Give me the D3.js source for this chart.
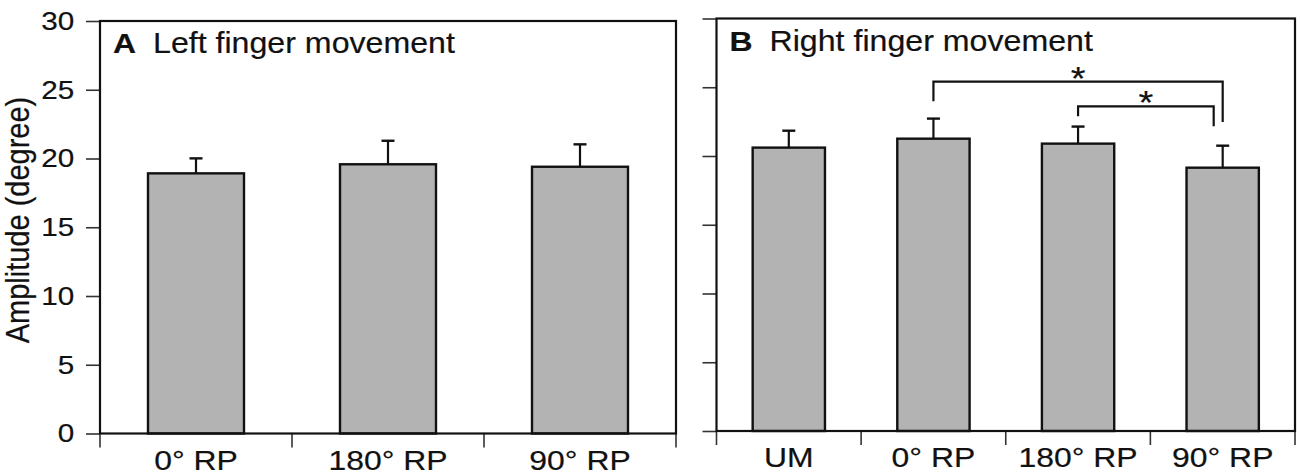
<!DOCTYPE html>
<html>
<head>
<meta charset="utf-8">
<script src="https://cdn.jsdelivr.net/npm/d3@7"></script>
<style>
  body { margin: 0; background: #fff; }
  text { font-family: "Liberation Sans", Arial, sans-serif; fill: #111; stroke: #111; stroke-width: 0.2px; }
</style>
</head>
<body>
<div id="chart"></div>
<script>
// values (means and standard errors, degrees)
var leftCats = ["0° RP", "180° RP", "90° RP"];
var leftMeans = [18.92, 19.58, 19.40];
var leftSE = [1.09, 1.71, 1.63];

var rightCats = ["UM", "0° RP", "180° RP", "90° RP"];
var rightMeans = [20.61, 21.26, 20.90, 19.15];
var rightSE = [1.23, 1.46, 1.24, 1.60];

var yTicks = [0, 5, 10, 15, 20, 25, 30];

// significance brackets in panel B (heights in degrees)
var bracketFrom = ["0° RP", "180° RP"];
var bracketTo = ["90° RP", "90° RP"];
var bracketTop = [25.41, 23.61];
var bracketLeftEnd = [23.98, 22.89];
var bracketRightEnd = [22.48, 22.16];
var bracketLabel = ["*", "*"];

var W = 1300, H = 475;
var sx = 1.12; // the figure's lettering is a bit wide

var svg = d3.select("#chart")
    .append("svg")
    .attr("width", W)
    .attr("height", H);

function panel(opt) {
    var g = svg.append("g")
        .attr("transform", "translate(" + opt.left + "," + opt.top + ")");

    var x = d3.scaleBand()
        .domain(opt.cats)
        .range([0, opt.width])
        .paddingInner(0.5)
        .paddingOuter(0.25);

    var y = d3.scaleLinear()
        .domain([0, 30])
        .range([opt.height, 0]);

    // y axis ticks
    var yAxis = g.append("g")
        .call(d3.axisLeft(y)
            .tickValues(yTicks)
            .tickSize(14)
            .tickPadding(9)
            .tickFormat(opt.yLabels ? d3.format("d") : ""));
    yAxis.select(".domain").remove();
    yAxis.selectAll("line").attr("stroke", "#333").attr("stroke-width", 1.6);
    yAxis.selectAll("text")
        .style("font-size", "26.5px")
        .attr("transform", "scale(" + sx + ",1)");

    // x axis: ticks on band borders, labels under band centres
    var step = x.step();
    var borders = opt.cats.map(function(d) { return x(d) - step * 0.25; });
    borders.push(opt.width);
    g.selectAll(".xtick")
        .data(borders)
        .enter()
        .append("line")
        .attr("class", "xtick")
        .attr("x1", function(d) { return d; })
        .attr("x2", function(d) { return d; })
        .attr("y1", opt.height)
        .attr("y2", opt.height + 14)
        .attr("stroke", "#333")
        .attr("stroke-width", 1.6);

    var xAxis = g.append("g")
        .attr("transform", "translate(0," + opt.height + ")")
        .call(d3.axisBottom(x).tickSize(0).tickPadding(16));
    xAxis.select(".domain").remove();
    xAxis.selectAll("text")
        .style("font-size", "28.5px")
        .attr("transform", "scale(" + sx + ",1)");

    // bars
    var data = opt.cats.map(function(c, i) {
        return { cat: c, mean: opt.means[i], se: opt.se[i] };
    });

    g.selectAll(".err")
        .data(data)
        .enter()
        .append("line")
        .attr("class", "err")
        .attr("x1", function(d) { return x(d.cat) + x.bandwidth() / 2; })
        .attr("x2", function(d) { return x(d.cat) + x.bandwidth() / 2; })
        .attr("y1", function(d) { return y(d.mean); })
        .attr("y2", function(d) { return y(d.mean + d.se); })
        .attr("stroke", "#111")
        .attr("stroke-width", 2.2);

    g.selectAll(".cap")
        .data(data)
        .enter()
        .append("line")
        .attr("class", "cap")
        .attr("x1", function(d) { return x(d.cat) + x.bandwidth() / 2 - 6.5; })
        .attr("x2", function(d) { return x(d.cat) + x.bandwidth() / 2 + 6.5; })
        .attr("y1", function(d) { return y(d.mean + d.se); })
        .attr("y2", function(d) { return y(d.mean + d.se); })
        .attr("stroke", "#111")
        .attr("stroke-width", 2.4);

    g.selectAll(".bar")
        .data(data)
        .enter()
        .append("rect")
        .attr("class", "bar")
        .attr("x", function(d) { return x(d.cat); })
        .attr("y", function(d) { return y(d.mean); })
        .attr("width", x.bandwidth())
        .attr("height", function(d) { return opt.height - y(d.mean); })
        .attr("fill", "#b3b3b3")
        .attr("stroke", "#111")
        .attr("stroke-width", 2.4);

    // frame
    g.append("rect")
        .attr("x", 0)
        .attr("y", 0)
        .attr("width", opt.width)
        .attr("height", opt.height)
        .attr("fill", "none")
        .attr("stroke", "#111")
        .attr("stroke-width", 2.2);

    // panel title
    g.append("text")
        .attr("transform", "translate(13,32) scale(" + sx + ",1)")
        .style("font-size", "28.5px")
        .style("font-weight", "bold")
        .text(opt.letter);
    g.append("text")
        .attr("transform", "translate(53,32) scale(" + sx + ",1)")
        .style("font-size", "28.7px")
        .text(opt.title);

    return { g: g, x: x, y: y };
}

var pa = panel({
    left: 100, top: 21, width: 576, height: 412.5,
    cats: leftCats, means: leftMeans, se: leftSE,
    yLabels: true, letter: "A", title: "Left finger movement"
});

var pb = panel({
    left: 716.5, top: 18.5, width: 578.5, height: 412.5,
    cats: rightCats, means: rightMeans, se: rightSE,
    yLabels: false, letter: "B", title: "Right finger movement"
});

// y axis title
svg.append("text")
    .attr("transform", "translate(29,220) scale(" + sx + ",1) rotate(-90)")
    .attr("text-anchor", "middle")
    .style("font-size", "29px")
    .text("Amplitude (degree)");

// significance brackets
var bx = pb.x, by = pb.y, half = pb.x.bandwidth() / 2;
bracketFrom.forEach(function(from, i) {
    var inset = i > 0 ? 9 : 0; // inner bracket tucked inside the outer one
    var x1 = bx(from) + half;
    var x2 = bx(bracketTo[i]) + half - inset;
    var path = d3.path();
    path.moveTo(x1, by(bracketLeftEnd[i]));
    path.lineTo(x1, by(bracketTop[i]));
    path.lineTo(x2, by(bracketTop[i]));
    path.lineTo(x2, by(bracketRightEnd[i]));
    pb.g.append("path")
        .attr("d", path.toString())
        .attr("fill", "none")
        .attr("stroke", "#111")
        .attr("stroke-width", 2.2);
    pb.g.append("text")
        .attr("transform", "translate(" + ((x1 + x2) / 2) + "," + (by(bracketTop[i]) + 8) + ") scale(" + sx + ",1)")
        .attr("text-anchor", "middle")
        .style("font-size", "34px")
        .text(bracketLabel[i]);
});
</script>
</body>
</html>
